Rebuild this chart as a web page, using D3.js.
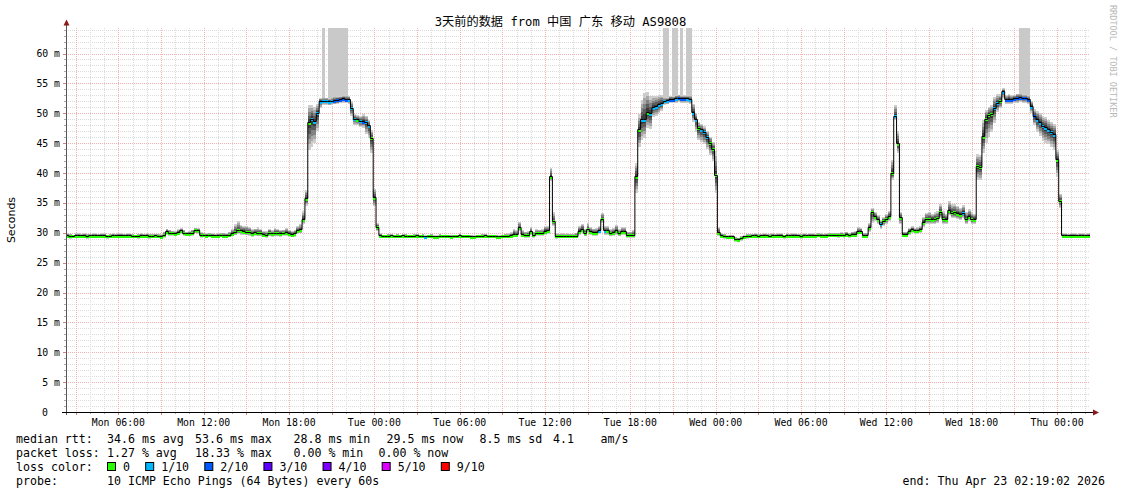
<!DOCTYPE html>
<html>
<head>
<meta charset="utf-8">
<script src="https://cdn.jsdelivr.net/npm/d3@7"></script>
<style>
  body { margin: 0; background: #fff; }
  svg text { font-family: "DejaVu Sans Mono", monospace; white-space: pre; }
</style>
</head>
<body>
<svg id="chart" width="1121" height="494"></svg>
<script>
// ---- data -------------------------------------------------------------
const titleText = "3天前的数据 from 中国 广东 移动 AS9808";
const startTime = Date.UTC(2026, 3, 20, 2, 19, 2);
const endTime = Date.UTC(2026, 3, 23, 2, 19, 2);
const stepMinutes = 12;
const yUpper = 64.27;   // ms, top of the value axis

// median round-trip time per 12-minute step (ms)
const medianRtt = [
  29.5,29.4,29.4,29.5,29.5,29.5,29.5,29.4,29.5,29.5,
  29.5,29.5,29.5,29.5,29.4,29.4,29.5,29.5,29.5,29.5,
  29.5,29.5,29.5,29.4,29.4,29.4,29.5,29.5,29.5,29.4,
  29.4,29.5,29.4,29.3,29.6,30.2,29.9,29.9,29.8,30.0,
  30.3,29.9,29.8,29.8,29.9,30.4,30.3,29.6,29.6,29.5,
  29.6,29.5,29.5,29.5,29.6,29.5,29.5,29.6,29.8,30.1,
  30.4,30.3,30.2,30.1,30.1,29.8,30.0,29.9,29.9,29.7,
  29.6,29.9,29.8,29.9,29.9,29.8,29.9,30.0,29.8,29.7,
  29.8,30.3,30.5,32.2,35.7,48.4,49.0,48.6,50.0,51.9,
  52.0,52.0,51.9,52.0,52.1,52.2,52.3,52.4,52.3,52.3,
  50.8,49.0,48.9,48.7,48.6,48.5,47.9,45.8,35.9,30.9,
  29.5,29.4,29.4,29.4,29.5,29.4,29.4,29.4,29.5,29.4,
  29.4,29.4,29.4,29.5,29.4,29.4,29.3,29.4,29.4,29.3,
  29.3,29.4,29.4,29.4,29.4,29.3,29.4,29.4,29.5,29.4,
  29.4,29.4,29.3,29.3,29.4,29.4,29.4,29.5,29.4,29.4,
  29.4,29.3,29.3,29.4,29.4,29.4,29.5,29.7,29.7,30.8,
  29.7,29.6,29.6,30.2,29.6,29.9,29.9,29.9,30.2,30.3,
  39.4,31.9,29.4,29.4,29.4,29.4,29.4,29.4,29.4,29.4,
  30.2,30.5,29.9,30.6,30.2,30.0,30.0,30.3,32.3,30.3,
  30.3,29.9,30.0,30.3,29.9,30.2,30.2,29.6,29.6,29.6,
  39.4,47.2,48.9,48.9,50.1,49.9,50.9,51.1,51.4,51.6,
  52.0,52.1,52.3,52.3,52.4,52.5,52.4,52.4,52.4,52.3,
  50.1,48.9,47.5,47.2,46.8,46.0,45.0,44.0,39.6,30.0,
  29.5,29.4,29.3,29.3,29.3,28.9,28.8,29.1,29.3,29.4,
  29.4,29.5,29.5,29.4,29.5,29.5,29.5,29.4,29.5,29.5,
  29.5,29.5,29.4,29.5,29.5,29.5,29.5,29.5,29.4,29.5,
  29.5,29.5,29.5,29.5,29.6,29.5,29.5,29.5,29.6,29.6,
  29.6,29.6,29.6,29.6,29.7,29.6,29.7,29.7,30.2,30.2,
  29.5,29.5,30.8,33.4,32.7,32.2,31.4,31.9,32.3,32.7,
  40.0,49.5,44.9,32.5,29.7,29.7,30.2,30.5,30.3,30.3,
  30.5,31.7,32.3,32.3,32.2,32.3,32.4,33.4,32.3,32.2,
  33.7,33.3,33.4,33.2,33.0,33.3,32.3,32.7,32.3,32.2,
  41.1,41.0,46.1,49.0,49.7,49.8,50.8,51.7,52.0,53.6,
  52.3,52.3,52.3,52.4,52.5,52.6,52.5,52.5,52.3,51.1,
  49.5,48.9,48.4,47.8,47.6,47.2,46.8,46.4,42.2,35.3,
  29.5,29.5,29.5,29.5,29.5,29.5,29.5,29.5,29.5,29.5
];

// lost pings per step, in tenths (one digit per step)
const lossTenths = [
  "0000000000","0000000000","0000000000","0000000000","0000000000",
  "0000000000","0000000000","0000000000","0000001111","1111222221",
  "1101211000","0000000000","0000001000","0000000000","0000000000",
  "0000000000","0000000000","0000000000","0000000101","0000000000",
  "0011011111","1122122211","1101110000","0000000000","0000000000",
  "0000000000","0000000000","0000000000","0000001000","0100000000",
  "0000000000","0000010000","0000001101","2222222221","2111111100",
  "0000000000"
].join("");

// spread of the slowest ping above the median (ms)
const smokeUp = [
  0.4,0.4,0.3,0.4,0.4,0.3,0.4,0.4,0.3,0.4,
  0.4,0.3,0.4,0.4,0.3,0.4,0.4,0.3,0.4,0.4,
  0.3,0.4,0.4,0.4,0.3,0.4,0.4,0.3,0.4,0.4,
  0.4,0.3,0.4,0.5,0.6,0.5,0.6,0.4,0.5,0.6,
  0.5,0.6,0.4,0.5,0.6,0.4,0.5,0.5,0.4,0.4,
  0.4,0.4,0.3,0.4,0.4,0.5,0.4,0.6,0.9,1.3,
  1.5,1.0,0.9,1.1,0.8,0.9,0.7,1.0,0.8,0.6,
  0.7,0.8,0.6,0.9,0.8,0.7,0.6,0.8,0.7,0.6,
  0.7,0.8,0.9,1.4,1.5,3.0,2.4,2.5,1.5,0.7,
  0.6,0.6,0.6,0.6,0.7,0.7,0.6,0.6,0.7,0.6,
  1.2,0.8,0.8,0.9,1.2,1.0,1.0,1.4,1.5,0.8,
  0.4,0.3,0.3,0.4,0.3,0.3,0.4,0.3,0.3,0.4,
  0.3,0.3,0.4,0.3,0.3,0.4,0.3,0.3,0.4,0.3,
  0.3,0.4,0.3,0.3,0.3,0.4,0.3,0.3,0.4,0.3,
  0.3,0.3,0.4,0.3,0.3,0.3,0.4,0.3,0.3,0.3,
  0.3,0.4,0.3,0.3,0.4,0.5,0.6,0.9,0.8,1.0,
  0.8,0.6,0.7,0.8,0.6,0.7,0.6,0.7,0.9,0.8,
  1.5,1.5,0.5,0.4,0.5,0.4,0.5,0.4,0.4,0.6,
  0.9,1.0,0.8,1.0,0.8,0.7,0.8,0.9,1.0,0.8,
  0.8,0.7,0.8,1.0,0.7,0.8,0.7,0.6,0.6,0.8,
  2.3,2.6,3.4,4.5,3.5,3.0,2.0,1.8,1.6,1.5,
  0.7,0.6,0.6,0.6,0.7,0.6,0.6,0.6,0.6,0.7,
  1.5,1.2,1.0,1.0,1.0,1.0,1.1,1.2,4.0,1.0,
  0.4,0.4,0.3,0.4,0.4,0.4,0.4,0.4,0.3,0.4,
  0.4,0.3,0.4,0.4,0.3,0.4,0.3,0.4,0.4,0.3,
  0.4,0.4,0.3,0.4,0.3,0.4,0.4,0.3,0.4,0.4,
  0.3,0.4,0.4,0.3,0.4,0.4,0.3,0.4,0.4,0.4,
  0.4,0.4,0.5,0.4,0.5,0.4,0.5,0.6,0.7,0.6,
  0.5,0.5,0.8,0.8,0.8,0.7,0.8,0.8,0.8,0.9,
  2.2,1.9,2.1,1.0,0.5,0.5,0.6,0.6,0.5,0.6,
  0.6,1.0,1.0,1.2,1.0,1.1,1.2,1.4,1.3,1.0,
  1.6,1.5,1.4,1.3,1.2,1.3,1.2,1.2,1.1,1.0,
  2.0,2.0,2.8,1.6,1.4,1.5,2.0,1.5,1.2,0.6,
  0.8,1.0,0.7,0.7,0.8,0.8,0.7,0.7,0.8,1.0,
  1.2,1.5,1.6,1.8,1.8,1.7,1.8,1.8,1.7,1.2,
  0.4,0.4,0.3,0.4,0.4,0.3,0.4,0.4,0.3,0.4
];

// spread of the fastest ping below the median (ms)
const smokeDown = [
  0.3,0.4,0.3,0.3,0.4,0.3,0.3,0.4,0.3,0.3,
  0.4,0.3,0.3,0.3,0.4,0.3,0.3,0.4,0.3,0.3,
  0.3,0.4,0.3,0.3,0.3,0.4,0.3,0.3,0.3,0.4,
  0.3,0.3,0.3,0.3,0.4,0.5,0.4,0.4,0.4,0.4,
  0.5,0.4,0.4,0.4,0.4,0.5,0.5,0.4,0.3,0.3,
  0.3,0.3,0.3,0.3,0.3,0.3,0.3,0.3,0.4,0.5,
  0.6,0.6,0.5,0.5,0.6,0.5,0.5,0.5,0.5,0.4,
  0.4,0.5,0.5,0.5,0.5,0.5,0.4,0.5,0.5,0.4,
  0.5,0.5,0.6,0.7,1.2,4.5,4.6,3.6,3.0,1.0,
  0.6,0.6,0.6,0.6,0.6,0.7,0.6,0.6,0.6,0.7,
  1.2,0.9,0.9,1.0,1.0,2.0,2.0,2.4,1.5,0.6,
  0.3,0.3,0.3,0.3,0.3,0.3,0.3,0.3,0.3,0.3,
  0.3,0.3,0.3,0.3,0.3,0.3,0.3,0.3,0.3,0.3,
  0.3,0.3,0.3,0.3,0.3,0.3,0.3,0.3,0.3,0.3,
  0.3,0.3,0.3,0.3,0.3,0.3,0.3,0.3,0.3,0.3,
  0.3,0.3,0.3,0.3,0.3,0.3,0.4,0.4,0.4,0.5,
  0.4,0.4,0.4,0.5,0.4,0.4,0.4,0.4,0.5,0.5,
  0.8,0.8,0.4,0.3,0.3,0.3,0.3,0.3,0.3,0.3,
  0.5,0.5,0.5,0.6,0.5,0.5,0.5,0.5,0.6,0.6,
  0.6,0.5,0.5,0.6,0.5,0.5,0.5,0.4,0.4,0.4,
  2.7,2.8,3.3,3.0,2.5,2.5,1.5,1.5,1.4,1.2,
  0.6,0.6,0.6,0.6,0.6,0.6,0.6,0.6,0.6,0.7,
  1.5,2.0,2.0,2.0,2.0,2.0,2.0,2.0,3.0,0.5,
  0.4,0.4,0.4,0.4,0.4,0.4,0.4,0.4,0.4,0.4,
  0.3,0.4,0.3,0.3,0.4,0.3,0.4,0.3,0.3,0.4,
  0.3,0.3,0.4,0.3,0.3,0.4,0.3,0.3,0.4,0.3,
  0.4,0.3,0.3,0.4,0.3,0.3,0.4,0.3,0.3,0.3,
  0.3,0.4,0.3,0.4,0.3,0.4,0.3,0.4,0.4,0.4,
  0.4,0.4,0.6,1.7,0.8,0.8,0.8,0.8,0.8,0.8,
  1.1,0.6,1.6,1.0,0.4,0.4,0.5,0.5,0.5,0.5,
  0.5,0.8,0.8,0.8,0.8,0.8,0.8,1.0,0.9,0.8,
  0.8,0.9,0.9,0.9,0.8,0.9,0.8,0.8,0.8,0.8,
  2.2,2.2,2.7,3.9,3.6,3.0,2.5,1.5,1.2,1.0,
  0.7,0.7,0.7,0.7,0.7,0.7,0.7,0.7,0.8,1.0,
  1.5,2.0,2.2,2.4,2.5,2.4,2.5,2.5,2.8,1.2,
  0.4,0.3,0.4,0.4,0.3,0.4,0.4,0.3,0.4,0.4
];

// steps whose slowest ping never came back (smoke reaches the top)
const lostTopSteps = [90, 92, 93, 94, 95, 96, 97, 98, 210, 211, 213, 214, 216, 218, 219, 335, 336, 337, 338];

const valueTicks = d3.range(0, 61, 5);
const lossLegend = [
  { label: "0", color: "#26ff00", tenths: 0 },
  { label: "1/10", color: "#00b8ff", tenths: 1 },
  { label: "2/10", color: "#0059ff", tenths: 2 },
  { label: "3/10", color: "#5e00ff", tenths: 3 },
  { label: "4/10", color: "#7e00ff", tenths: 4 },
  { label: "5/10", color: "#dd00ff", tenths: 5 },
  { label: "9/10", color: "#ff0000", tenths: 9 }
];
const rttStats = ["34.6 ms avg", "53.6 ms max", "28.8 ms min", "29.5 ms now", "8.5 ms sd", "4.1", "am/s"];
const lossStats = ["1.27 % avg", "18.33 % max", "0.00 % min", "0.00 % now"];
const probeText = "10 ICMP Echo Pings (64 Bytes) every 60s";
const endText = "end: Thu Apr 23 02:19:02 2026";

// ---- layout -----------------------------------------------------------
const plot = { left: 66, right: 1090, top: 28, bottom: 412 };
const svg = d3.select("#chart");
svg.append("rect").attr("width", 1121).attr("height", 494).attr("fill", "#fff");

const x = d3.scaleUtc().domain([startTime, endTime]).range([plot.left, plot.right]);
const y = d3.scaleLinear().domain([0, yUpper]).range([plot.bottom, plot.top]);
const stepMs = stepMinutes * 60000;
const crisp = v => Math.round(v) + 0.5;

const steps = medianRtt.map((m, i) => ({
  i, t0: startTime + i * stepMs, t1: startTime + (i + 1) * stepMs,
  med: m, up: smokeUp[i], dn: smokeDown[i], loss: +lossTenths[i]
}));
const lossColor = t => (lossLegend.filter(d => d.tenths <= t).pop() || lossLegend[0]).color;

const minorGrid = "#dcdcdc", majorGrid = "#f2b0b0";

// ---- grid ---------------------------------------------------------------
const grid = svg.append("g");
d3.range(1, Math.floor(yUpper) + 1).forEach(v => {
  const major = v % 5 === 0;
  grid.append("line")
    .attr("x1", plot.left).attr("x2", plot.right)
    .attr("y1", crisp(y(v))).attr("y2", crisp(y(v)))
    .attr("stroke", major ? majorGrid : minorGrid)
    .attr("stroke-dasharray", "1,1");
});
d3.utcHour.range(startTime, endTime).forEach(h => {
  const major = h.getUTCHours() % 3 === 0;
  grid.append("line")
    .attr("x1", crisp(x(h))).attr("x2", crisp(x(h)))
    .attr("y1", plot.top).attr("y2", plot.bottom)
    .attr("stroke", major ? majorGrid : minorGrid)
    .attr("stroke-dasharray", "1,1");
});

// ---- smoke --------------------------------------------------------------
const marks = svg.append("g").attr("shape-rendering", "crispEdges");
marks.selectAll("rect.lost")
  .data(steps.filter(d => lostTopSteps.includes(d.i)))
  .join("rect").attr("class", "lost")
  .attr("x", d => x(d.t0)).attr("width", d => x(d.t1) - x(d.t0))
  .attr("y", y(yUpper)).attr("height", d => y(d.med + d.up) - y(yUpper))
  .attr("fill", "#c9c9c9");

const bands = [
  { f: 1.0, c: "#cdcdcd" },
  { f: 0.8, c: "#a8a8a8" },
  { f: 0.6, c: "#828282" },
  { f: 0.4, c: "#5c5c5c" },
  { f: 0.2, c: "#3a3a3a" }
];
bands.forEach(b => {
  marks.append("g").selectAll("rect")
    .data(steps).join("rect")
    .attr("x", d => x(d.t0)).attr("width", d => x(d.t1) - x(d.t0))
    .attr("y", d => y(d.med + d.up * b.f))
    .attr("height", d => Math.max(0, y(d.med - d.dn * b.f) - y(d.med + d.up * b.f)))
    .attr("fill", b.c);
});

// ---- median -------------------------------------------------------------
const medianPts = steps.map(d => [d.t0, d.med]).concat([[endTime, medianRtt[medianRtt.length - 1]]]);
svg.append("path")
  .attr("d", d3.line().x(d => x(d[0])).y(d => crisp(y(d[1]) - 0.5)).curve(d3.curveStepAfter)(medianPts))
  .attr("fill", "none").attr("stroke", "#000").attr("stroke-width", 1);

marks.append("g").selectAll("rect")
  .data(steps).join("rect")
  .attr("x", d => x(d.t0)).attr("width", d => x(d.t1) - x(d.t0))
  .attr("y", d => Math.round(y(d.med)) - 1).attr("height", 3)
  .attr("fill", d => lossColor(d.loss));

// ---- axes ---------------------------------------------------------------
const axes = svg.append("g").attr("shape-rendering", "crispEdges");
d3.range(0, Math.floor(yUpper) + 1).forEach(v => {
  const major = v % 5 === 0;
  axes.append("line")
    .attr("x1", plot.left - (major ? 3 : 2)).attr("x2", plot.left)
    .attr("y1", crisp(y(v))).attr("y2", crisp(y(v)))
    .attr("stroke", major ? "#d88080" : "#aaa");
});
d3.utcHour.range(startTime, endTime).forEach(h => {
  const major = h.getUTCHours() % 3 === 0;
  axes.append("line")
    .attr("x1", crisp(x(h))).attr("x2", crisp(x(h)))
    .attr("y1", plot.bottom).attr("y2", plot.bottom + (major ? 3 : 2))
    .attr("stroke", major ? "#d88080" : "#aaa");
});
axes.append("line").attr("x1", crisp(plot.left)).attr("x2", crisp(plot.left))
  .attr("y1", plot.bottom + 3).attr("y2", 24).attr("stroke", "#555");
axes.append("line").attr("x1", plot.left - 4).attr("x2", 1094)
  .attr("y1", crisp(plot.bottom)).attr("y2", crisp(plot.bottom)).attr("stroke", "#000");
svg.append("path").attr("d", "M63.5,25.5 L69.5,25.5 L66.5,19.5 Z").attr("fill", "#8b1a1a");
svg.append("path").attr("d", "M1093,409.5 L1093,415.5 L1099,412.5 Z").attr("fill", "#8b1a1a");

const tickFont = "9.8px";
svg.append("g").selectAll("text")
  .data(valueTicks).join("text")
  .attr("x", d => d === 0 ? 48 : 60)
  .attr("y", d => y(d) + 3.6)
  .attr("text-anchor", "end")
  .attr("font-size", tickFont)
  .attr("fill", "#000")
  .text(d => d === 0 ? "0" : d + " m");

const fmt = d3.utcFormat("%a %H:%M");
svg.append("g").selectAll("text")
  .data(d3.utcHour.every(6).range(startTime, endTime)).join("text")
  .attr("x", d => x(d)).attr("y", 425.5)
  .attr("text-anchor", "middle")
  .attr("font-size", tickFont)
  .attr("fill", "#000")
  .text(d => fmt(d));

// ---- titles -------------------------------------------------------------
svg.append("text")
  .attr("x", 560.5).attr("y", 25.5).attr("text-anchor", "middle")
  .attr("font-size", "12.2px")
  .style("font-family", "'DejaVu Sans Mono', 'Noto Sans CJK SC', monospace")
  .attr("fill", "#000").text(titleText);

svg.append("text")
  .attr("transform", "translate(14.5,220) rotate(-90)")
  .attr("text-anchor", "middle")
  .attr("font-size", "11px")
  .style("font-family", "'DejaVu Sans', sans-serif")
  .attr("fill", "#000").text("Seconds");

svg.append("text")
  .attr("transform", "translate(1109.5,5) rotate(90)")
  .attr("font-size", "8.5px")
  .attr("fill", "#b8b8b8").text("RRDTOOL / TOBI OETIKER");

// ---- legend -------------------------------------------------------------
const legend = svg.append("g").attr("font-size", "11.6px").attr("fill", "#000");
const rows = [443, 457, 471, 485];
const statCols = [107, 195, 293.5, 386.5, 479.5, 553, 600.5];
const lossCols = [107, 195, 293.5, 378.5];

legend.append("text").attr("x", 16).attr("y", rows[0]).text("median rtt:");
rttStats.forEach((s, k) => legend.append("text").attr("x", statCols[k]).attr("y", rows[0]).text(s));

legend.append("text").attr("x", 16).attr("y", rows[1]).text("packet loss:");
lossStats.forEach((s, k) => legend.append("text").attr("x", lossCols[k]).attr("y", rows[1]).text(s));

legend.append("text").attr("x", 16).attr("y", rows[2]).text("loss color:");
let cx = 107;
lossLegend.forEach(d => {
  legend.append("rect")
    .attr("x", cx + 0.5).attr("y", rows[2] - 8.5).attr("width", 8).attr("height", 8)
    .attr("fill", d.color).attr("stroke", "#000").attr("stroke-width", 1);
  const t = legend.append("text").attr("x", cx + 16).attr("y", rows[2]).text(d.label);
  cx = cx + 16 + t.node().getComputedTextLength() + 15.2;
});

legend.append("text").attr("x", 16).attr("y", rows[3]).text("probe:");
legend.append("text").attr("x", 107).attr("y", rows[3]).text(probeText);
legend.append("text").attr("x", 1105).attr("y", rows[3]).attr("text-anchor", "end").text(endText);
</script>
</body>
</html>
